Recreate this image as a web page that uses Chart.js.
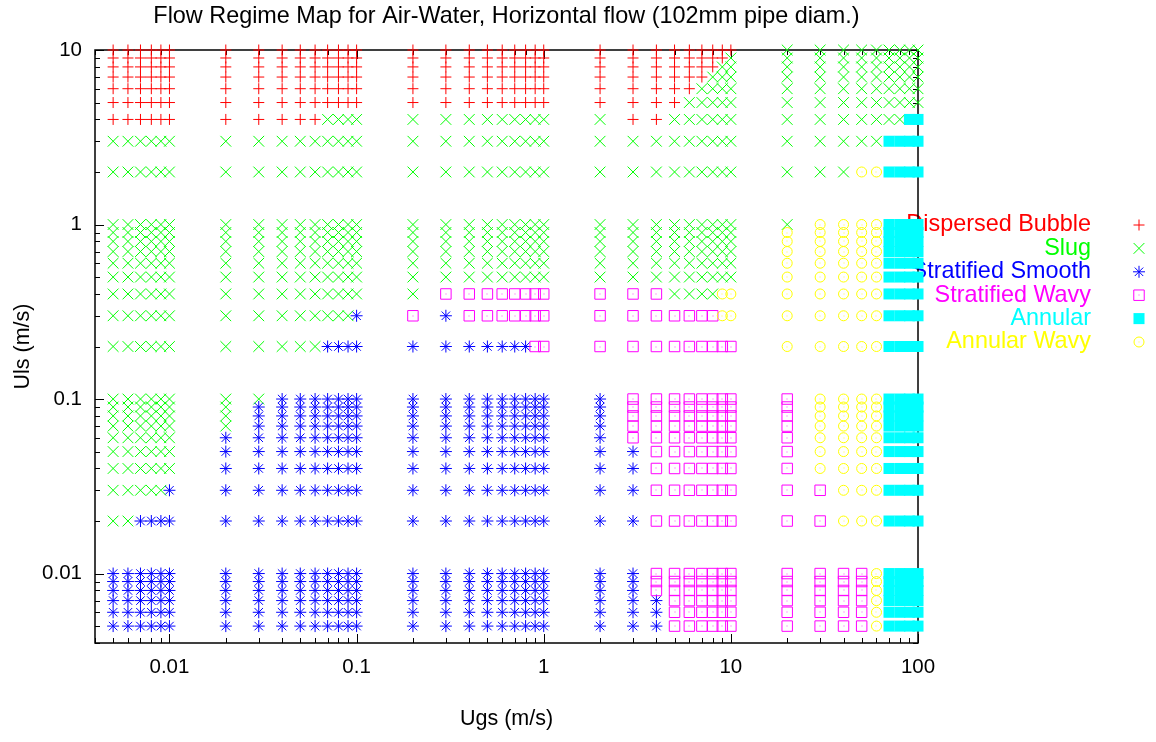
<!DOCTYPE html>
<html>
<head>
<meta charset="utf-8">
<title>Flow Regime Map</title>
<script src="https://cdn.jsdelivr.net/npm/chart.js@4.4.1/dist/chart.umd.min.js"></script>
<style>
  html, body { margin: 0; padding: 0; background: #fff; }
  #wrap { width: 1156px; height: 742px; }
</style>
</head>
<body>
<div id="wrap"><canvas id="FlowMapCanvas" width="1156" height="742"></canvas></div>
<script>
// gas superficial velocities of the test grid (columns)
const ugsValues = [0.005, 0.006, 0.007, 0.008, 0.009, 0.01,
    0.02, 0.03, 0.04, 0.05, 0.06, 0.07, 0.08, 0.09, 0.1,
    0.2, 0.3, 0.4, 0.5, 0.6, 0.7, 0.8, 0.9, 1,
    2, 3, 4, 5, 6, 7, 8, 9, 10,
    20, 30, 40, 50, 60, 70, 80, 90, 100];

// liquid superficial velocities (rows, top row first)
const ulsValues = [10, 9, 8, 7, 6, 5, 4, 3, 2,
    1, 0.9, 0.8, 0.7, 0.6, 0.5, 0.4, 0.3, 0.2,
    0.1, 0.09, 0.08, 0.07, 0.06, 0.05, 0.04, 0.03, 0.02,
    0.01, 0.009, 0.008, 0.007, 0.006, 0.005];

// regime at each grid point, one letter per Ugs column (spaces only group decades)
// D bubble, S slug, M stratified smooth, W stratified wavy, A annular, Y annular wavy
const regimeRows = [
    'DDDDDD DDDDDDDDD DDDDDDDDD DDDDDDDDD SSSSSSSSS', // 10
    'DDDDDD DDDDDDDDD DDDDDDDDD DDDDDDDDS SSSSSSSSS', // 9
    'DDDDDD DDDDDDDDD DDDDDDDDD DDDDDDDSS SSSSSSSSS', // 8
    'DDDDDD DDDDDDDDD DDDDDDDDD DDDDDDSSS SSSSSSSSS', // 7
    'DDDDDD DDDDDDDDD DDDDDDDDD DDDDDSSSS SSSSSSSSS', // 6
    'DDDDDD DDDDDDDDD DDDDDDDDD DDDDSSSSS SSSSSSSSS', // 5
    'DDDDDD DDDDDSSSS SSSSSSSSS SDDSSSSSS SSSSSSSAA', // 4
    'SSSSSS SSSSSSSSS SSSSSSSSS SSSSSSSSS SSSSSAAAA', // 3
    'SSSSSS SSSSSSSSS SSSSSSSSS SSSSSSSSS SSSYYAAAA', // 2
    'SSSSSS SSSSSSSSS SSSSSSSSS SSSSSSSSS SYYYYAAAA', // 1
    'SSSSSS SSSSSSSSS SSSSSSSSS SSSSSSSSS YYYYYAAAA', // 0.9
    'SSSSSS SSSSSSSSS SSSSSSSSS SSSSSSSSS YYYYYAAAA', // 0.8
    'SSSSSS SSSSSSSSS SSSSSSSSS SSSSSSSSS YYYYYAAAA', // 0.7
    'SSSSSS SSSSSSSSS SSSSSSSSS SSSSSSSSS YYYYYAAAA', // 0.6
    'SSSSSS SSSSSSSSS SSSSSSSSS SSSSSSSSS YYYYYAAAA', // 0.5
    'SSSSSS SSSSSSSSS SWWWWWWWW WWWSSSSYY YYYYYAAAA', // 0.4
    'SSSSSS SSSSSSSSM WMWWWWWWW WWWWWWWYY YYYYYAAAA', // 0.3
    'SSSSSS SSSSSMMMM MMMMMMMWW WWWWWWWWW YYYYYAAAA', // 0.2
    'SSSSSS SSMMMMMMM MMMMMMMMM MWWWWWWWW WYYYYAAAA', // 0.1
    'SSSSSS SMMMMMMMM MMMMMMMMM MWWWWWWWW WYYYYAAAA', // 0.09
    'SSSSSS SMMMMMMMM MMMMMMMMM MWWWWWWWW WYYYYAAAA', // 0.08
    'SSSSSS SMMMMMMMM MMMMMMMMM MWWWWWWWW WYYYYAAAA', // 0.07
    'SSSSSS MMMMMMMMM MMMMMMMMM MWWWWWWWW WYYYYAAAA', // 0.06
    'SSSSSS MMMMMMMMM MMMMMMMMM MMWWWWWWW WYYYYAAAA', // 0.05
    'SSSSSS MMMMMMMMM MMMMMMMMM MMWWWWWWW WYYYYAAAA', // 0.04
    'SSSSSM MMMMMMMMM MMMMMMMMM MMWWWWWWW WWYYYAAAA', // 0.03
    'SSMMMM MMMMMMMMM MMMMMMMMM MMWWWWWWW WWYYYAAAA', // 0.02
    'MMMMMM MMMMMMMMM MMMMMMMMM MMWWWWWWW WWWWYAAAA', // 0.01
    'MMMMMM MMMMMMMMM MMMMMMMMM MMWWWWWWW WWWWYAAAA', // 0.009
    'MMMMMM MMMMMMMMM MMMMMMMMM MMWWWWWWW WWWWYAAAA', // 0.008
    'MMMMMM MMMMMMMMM MMMMMMMMM MMMWWWWWW WWWWYAAAA', // 0.007
    'MMMMMM MMMMMMMMM MMMMMMMMM MMMWWWWWW WWWWYAAAA', // 0.006
    'MMMMMM MMMMMMMMM MMMMMMMMM MMMWWWWWW WWWWYAAAA'  // 0.005
];

const regimeCodes = ['D', 'S', 'M', 'W', 'A', 'Y'];
const regimeNames = ['Dispersed Bubble', 'Slug', 'Stratified Smooth', 'Stratified Wavy', 'Annular', 'Annular Wavy'];
const regimeColors = ['#ff0000', '#00ff00', '#0000ff', '#ff00ff', '#00ffff', '#ffff00'];

const xTickLabels = ['0.01', '0.1', '1', '10', '100'];
const yTickLabels = ['0.01', '0.1', '1', '10'];

const FONT = '"Liberation Sans", Arial, Helvetica, sans-serif';

// gnuplot-like symbols with chart.js point styles
const markerStyles = {
    D: { pointStyle: 'cross', radius: 5.5, fill: false },
    S: { pointStyle: 'crossRot', radius: 7.6, fill: false },
    M: { pointStyle: 'star', radius: 6, fill: false },
    W: { pointStyle: 'rect', radius: 7.4, fill: false },
    A: { pointStyle: 'rect', radius: 7.8, fill: true },
    Y: { pointStyle: 'circle', radius: 5, fill: false }
};

function pointOptions(k) {
    const m = markerStyles[regimeCodes[k]];
    return {
        pointStyle: m.pointStyle,
        radius: m.radius,
        borderWidth: m.fill ? 0 : 1,
        borderColor: regimeColors[k],
        backgroundColor: m.fill ? regimeColors[k] : 'rgba(0,0,0,0)',
        rotation: 0
    };
}

function isMajor(v) {
    const l = Math.log10(v);
    return Math.abs(l - Math.round(l)) < 1e-9;
}

function findLabel(labels, v) {
    return labels.find(l => Math.abs(Number(l) - v) / v < 1e-9) || '';
}

// tick positions 1..9 x decade inside the range
function logTicks(min, max) {
    const out = [];
    for (let e = -3; e <= 2; e++) {
        for (let m = 1; m <= 9; m++) {
            const v = Number((m * Math.pow(10, e)).toPrecision(6));
            if (v >= min - 1e-12 && v <= max + 1e-12) out.push(v);
        }
    }
    return out;
}

function centerDot(ctx, color, x, y) {
    ctx.fillStyle = color;
    ctx.globalAlpha = 0.7;
    ctx.fillRect(Math.round(x) - 0.5, Math.round(y) - 0.5, 1, 1);
    ctx.globalAlpha = 1;
}

document.addEventListener("DOMContentLoaded", () => {
    const cleanRows = regimeRows.map(r => r.replace(/ /g, ''));

    const datasets = regimeCodes.map((code, k) => {
        const points = [];
        cleanRows.forEach((row, i) => {
            for (let j = 0; j < row.length; j++) {
                if (row[j] === code) points.push({ x: ugsValues[j], y: ulsValues[i] });
            }
        });
        const p = pointOptions(k);
        return {
            label: regimeNames[k],
            data: points,
            pointStyle: p.pointStyle,
            radius: p.radius,
            hoverRadius: p.radius,
            borderWidth: p.borderWidth,
            borderColor: p.borderColor,
            backgroundColor: p.backgroundColor,
            clip: false,
            order: regimeCodes.length - k // later regimes on top, like gnuplot
        };
    });

    const gnuplotFrame = {
        id: 'gnuplotFrame',
        beforeDatasetsDraw(chart) {
            const { ctx, chartArea: a, scales: { x, y } } = chart;
            ctx.save();

            // key: text right aligned, sample to the right
            ctx.font = '23.4px ' + FONT;
            ctx.textAlign = 'right';
            ctx.textBaseline = 'middle';
            regimeNames.forEach((name, i) => {
                const ty = 225 + i * 23.4;
                const p = pointOptions(i);
                ctx.fillStyle = regimeColors[i];
                ctx.fillText(name, 1091, ty);
                ctx.save();
                ctx.strokeStyle = p.borderColor;
                ctx.fillStyle = p.backgroundColor;
                ctx.lineWidth = p.borderWidth;
                Chart.helpers.drawPoint(ctx, p, 1139, ty);
                ctx.restore();
                if (regimeCodes[i] === 'W' || regimeCodes[i] === 'Y') centerDot(ctx, regimeColors[i], 1139, ty);
            });

            // border
            ctx.strokeStyle = '#000';
            ctx.lineWidth = 1.5;
            ctx.strokeRect(a.left, a.top, a.right - a.left, a.bottom - a.top);

            // inward tics on all four sides
            ctx.lineWidth = 1;
            ctx.beginPath();
            x.ticks.forEach(t => {
                const px = Math.round(x.getPixelForValue(t.value)) + 0.5;
                const len = isMajor(t.value) ? 9 : 5;
                ctx.moveTo(px, a.bottom); ctx.lineTo(px, a.bottom - len);
                ctx.moveTo(px, a.top); ctx.lineTo(px, a.top + len);
            });
            y.ticks.forEach(t => {
                const py = Math.round(y.getPixelForValue(t.value)) + 0.5;
                const len = isMajor(t.value) ? 9 : 5;
                ctx.moveTo(a.left, py); ctx.lineTo(a.left + len, py);
                ctx.moveTo(a.right, py); ctx.lineTo(a.right - len, py);
            });
            ctx.stroke();
            ctx.restore();
        },
        afterDatasetDraw(chart, args) {
            // dot in the middle of the square and circle symbols
            const code = regimeCodes[args.index];
            if (code !== 'W' && code !== 'Y') return;
            const ctx = chart.ctx;
            ctx.save();
            args.meta.data.forEach(el => centerDot(ctx, regimeColors[args.index], el.x, el.y));
            ctx.restore();
        },
        afterDraw(chart) {
            const { ctx, chartArea: a } = chart;
            ctx.save();
            ctx.font = '23.4px ' + FONT;
            ctx.fillStyle = '#000';
            ctx.textAlign = 'center';
            ctx.textBaseline = 'middle';
            ctx.fillText('Flow Regime Map for Air-Water, Horizontal flow (102mm pipe diam.)', (a.left + a.right) / 2, 17);
            ctx.restore();
        }
    };

    const ctx = document.getElementById('FlowMapCanvas').getContext('2d');
    new Chart(ctx, {
        type: 'scatter',
        data: { datasets: datasets },
        options: {
            responsive: false,
            animation: false,
            events: [],
            layout: { padding: { top: 50, right: 238, left: 0, bottom: 0 } },
            plugins: {
                legend: { display: false },
                tooltip: { enabled: false },
                title: { display: false }
            },
            scales: {
                x: {
                    type: 'logarithmic',
                    min: 0.004,
                    max: 100,
                    grid: { display: false, drawTicks: false },
                    border: { display: false },
                    afterBuildTicks: s => { s.ticks = logTicks(0.004, 100).map(v => ({ value: v })); },
                    afterFit: s => { s.height = 99; },
                    ticks: {
                        autoSkip: false,
                        maxRotation: 0,
                        padding: 12,
                        color: '#000',
                        font: { family: FONT, size: 20.5 },
                        callback: v => findLabel(xTickLabels, v)
                    },
                    title: {
                        display: true,
                        text: 'Ugs (m/s)',
                        color: '#000',
                        font: { family: FONT, size: 21.5 },
                        padding: { top: 10, bottom: 10 }
                    }
                },
                y: {
                    type: 'logarithmic',
                    min: 0.004,
                    max: 10,
                    grid: { display: false, drawTicks: false },
                    border: { display: false },
                    afterBuildTicks: s => { s.ticks = logTicks(0.004, 10).map(v => ({ value: v })); },
                    afterFit: s => { s.width = 95; },
                    ticks: {
                        autoSkip: false,
                        padding: 13,
                        color: '#000',
                        font: { family: FONT, size: 20.5 },
                        callback: v => findLabel(yTickLabels, v)
                    },
                    title: {
                        display: true,
                        text: 'Uls (m/s)',
                        color: '#000',
                        font: { family: FONT, size: 21.5 },
                        padding: { top: 10, bottom: 10 }
                    }
                }
            }
        },
        plugins: [gnuplotFrame]
    });
});
</script>
</body>
</html>
